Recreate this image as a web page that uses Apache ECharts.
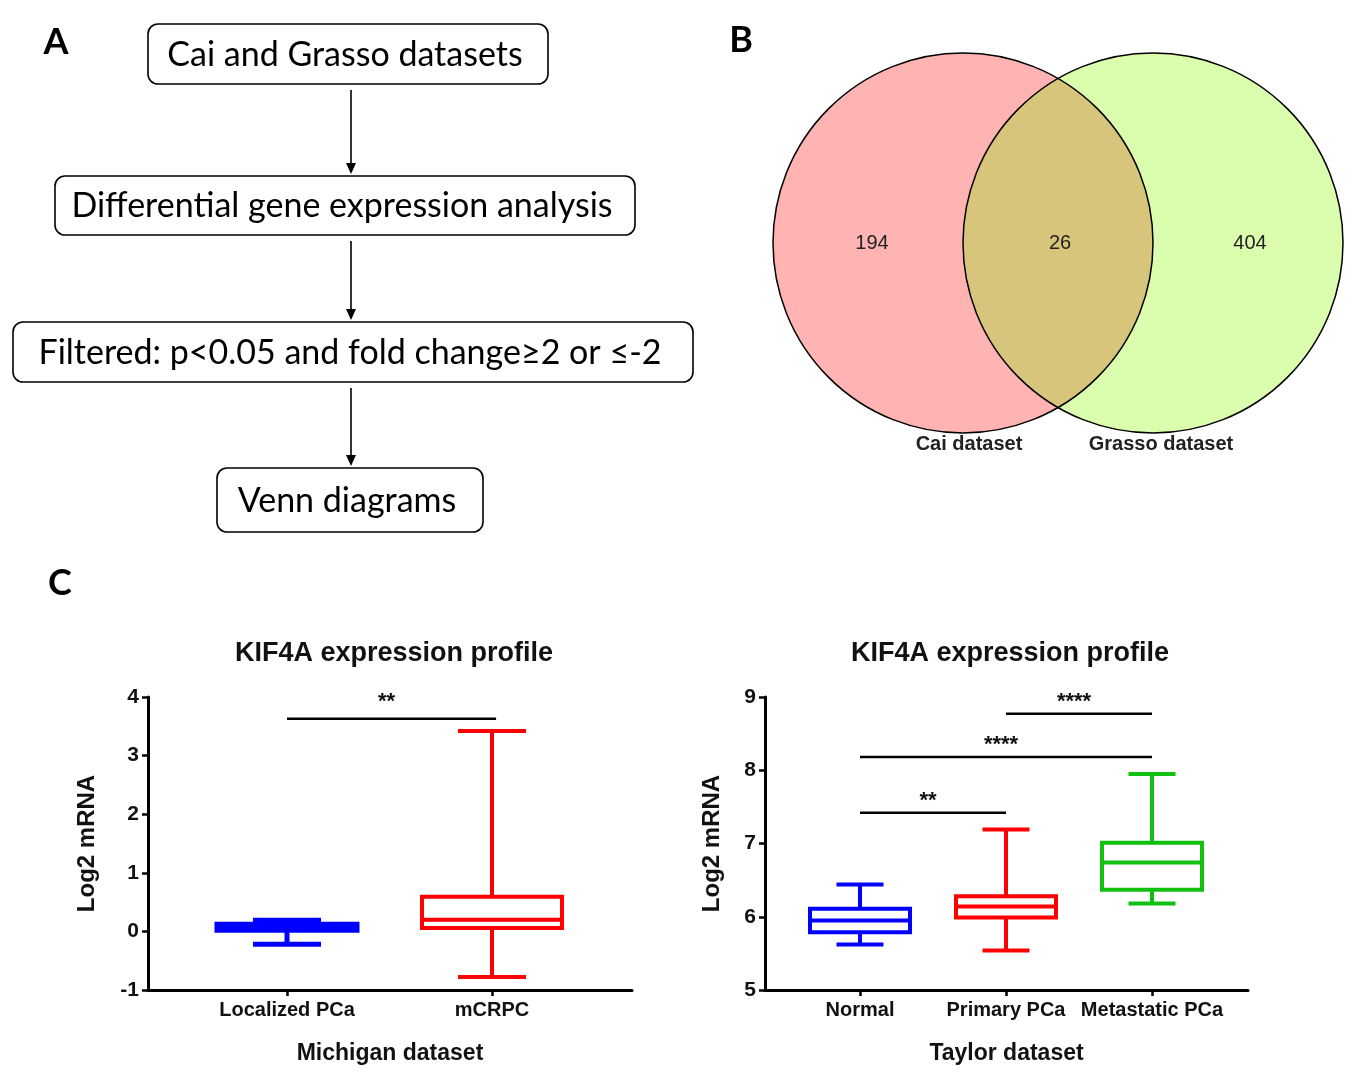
<!DOCTYPE html>
<html>
<head>
<meta charset="utf-8">
<script src="https://cdn.jsdelivr.net/npm/echarts@6/dist/echarts.min.js"></script>
<style>
html,body{margin:0;padding:0;background:#fff;}
#c{width:1357px;height:1083px;}
</style>
</head>
<body>
<div id="c"></div>
<script>
// ---------- data ----------
const flowSteps = ['Cai and Grasso datasets', 'Differential gene expression analysis', 'Filtered: p<0.05 and fold change\u22652 or \u2264-2', 'Venn diagrams'];
const vennSets = ['Cai dataset', 'Grasso dataset'];
const vennCounts = [194, 26, 404]; // Cai only, both, Grasso only

const catsLeft = ['Localized PCa', 'mCRPC'];
// [low whisker, Q1, median, Q3, high whisker]
const boxLeft = [
  [-0.22, 0.02, 0.07, 0.12, 0.19],
  [-0.78, 0.06, 0.20, 0.59, 3.42]
];
const sigLeft = [[0, 1.02, 3.63, '**']];

const catsRight = ['Normal', 'Primary PCa', 'Metastatic PCa'];
const boxRight = [
  [5.62, 5.79, 5.95, 6.11, 6.44],
  [5.54, 5.99, 6.14, 6.28, 7.19],
  [6.18, 6.37, 6.74, 7.01, 7.95]
];
const sigRight = [[0, 1, 7.42, '**'], [0, 2, 8.18, '****'], [1, 2, 8.77, '****']];

const yTicksLeft = [-1, 4];
const yTicksRight = [5, 9];

// ---------- styles ----------
const colorsLeft = ['#0000ff', '#ff0000'];
const colorsRight = ['#0000ff', '#ff0000', '#11c011'];
const F = 'Liberation Sans, Arial, sans-serif';
const FF = 'Lato, Noto Sans, sans-serif';

const chart = echarts.init(document.getElementById('c'), null, {renderer: 'canvas'});

function boxRender(colors, boxW, capW, lws) {
  return function (params, api) {
    const x = api.value(0);
    const lo = api.coord([x, api.value(1)]);
    const q1 = api.coord([x, api.value(2)]);
    const md = api.coord([x, api.value(3)]);
    const q3 = api.coord([x, api.value(4)]);
    const hi = api.coord([x, api.value(5)]);
    const cx = lo[0];
    const col = colors[params.dataIndex];
    const lw = lws[params.dataIndex];
    const st = {stroke: col, lineWidth: lw, fill: null};
    return {
      type: 'group',
      children: [
        {type: 'line', shape: {x1: cx, y1: hi[1], x2: cx, y2: q3[1]}, style: st},
        {type: 'line', shape: {x1: cx, y1: q1[1], x2: cx, y2: lo[1]}, style: st},
        {type: 'line', shape: {x1: cx - capW / 2, y1: hi[1], x2: cx + capW / 2, y2: hi[1]}, style: st},
        {type: 'line', shape: {x1: cx - capW / 2, y1: lo[1], x2: cx + capW / 2, y2: lo[1]}, style: st},
        {type: 'rect', shape: {x: cx - boxW / 2, y: q3[1], width: boxW, height: q1[1] - q3[1]}, style: {stroke: col, lineWidth: lw, fill: '#fff'}},
        {type: 'line', shape: {x1: cx - boxW / 2, y1: md[1], x2: cx + boxW / 2, y2: md[1]}, style: st}
      ]
    };
  };
}

const sigLabels = {sigL: sigLeft.map(s => s[3]), sigR: sigRight.map(s => s[3])};
function sigRender(gap) {
  return function (params, api) {
    const a = api.coord([api.value(0), api.value(2)]);
    const b = api.coord([api.value(1), api.value(2)]);
    const lbl = sigLabels[params.seriesName][params.dataIndex];
    return {
      type: 'group',
      children: [
        {type: 'line', shape: {x1: a[0], y1: a[1], x2: b[0], y2: b[1]}, style: {stroke: '#000', lineWidth: 2.5}},
        {type: 'text', style: {text: lbl, x: (a[0] + b[0]) / 2 - 5, y: a[1] - gap, align: 'center', verticalAlign: 'middle', fill: '#111', font: 'bold 22px ' + F}}
      ]
    };
  };
}

function mkX(gridIndex, cats, min, max, name) {
  return {
    type: 'value', gridIndex: gridIndex, min: min, max: max,
    splitLine: {show: false},
    axisLine: {show: true, onZero: false, lineStyle: {color: '#000', width: 3}},
    axisTick: {show: true, length: 6, inside: false, customValues: cats.map((c, i) => i), lineStyle: {color: '#000', width: 2.5}},
    axisLabel: {color: '#111', fontFamily: F, fontWeight: 'bold', fontSize: 20, margin: 10, customValues: cats.map((c, i) => i), formatter: v => cats[Math.round(v)] || ''},
    name: name, nameLocation: 'middle', nameGap: 52,
    nameTextStyle: {color: '#111', fontFamily: F, fontWeight: 'bold', fontSize: 23}
  };
}
function mkY(gridIndex, ticks, gap) {
  return {
    type: 'value', gridIndex: gridIndex, min: ticks[0], max: ticks[1], interval: 1,
    splitLine: {show: false},
    axisLine: {show: true, onZero: false, lineStyle: {color: '#000', width: 3}},
    axisTick: {show: true, length: 6, lineStyle: {color: '#000', width: 2.5}},
    axisLabel: {color: '#111', fontFamily: F, fontWeight: 'bold', fontSize: 21, margin: 9},
    name: 'Log2 mRNA', nameLocation: 'middle', nameGap: gap, nameRotate: 90,
    nameTextStyle: {color: '#111', fontFamily: F, fontWeight: 'bold', fontSize: 24}
  };
}

// ---------- graphics: flowchart + venn ----------
const boxes = [
  {x: 148, y: 24, w: 400, h: 60},
  {x: 55, y: 176, w: 580, h: 59},
  {x: 13, y: 322, w: 680, h: 60},
  {x: 217, y: 468, w: 266, h: 64}
];
const graphics = [];
graphics.push({type: 'text', style: {text: 'A', x: 56, y: 42, align: 'center', verticalAlign: 'middle', font: 'bold 36px ' + FF, fill: '#000'}});
graphics.push({type: 'text', style: {text: 'B', x: 741, y: 40, align: 'center', verticalAlign: 'middle', font: 'bold 36px ' + FF, fill: '#000'}});
graphics.push({type: 'text', style: {text: 'C', x: 60, y: 583, align: 'center', verticalAlign: 'middle', font: 'bold 36px ' + FF, fill: '#000'}});

boxes.forEach((b, i) => {
  graphics.push({type: 'rect', shape: {x: b.x, y: b.y, width: b.w, height: b.h, r: 10}, style: {fill: '#fff', stroke: '#000', lineWidth: 1.6}});
  graphics.push({type: 'text', style: {text: flowSteps[i], x: b.x + b.w / 2 - 3, y: b.y + b.h / 2 + 1, align: 'center', verticalAlign: 'middle', font: '34px ' + FF, fill: '#000'}});
  if (i < boxes.length - 1) {
    const y1 = b.y + b.h + 6, y2 = boxes[i + 1].y - 2;
    graphics.push({type: 'line', shape: {x1: 351, y1: y1, x2: 351, y2: y2 - 8}, style: {stroke: '#000', lineWidth: 1.6}});
    graphics.push({type: 'polygon', shape: {points: [[346, y2 - 11], [356, y2 - 11], [351, y2]]}, style: {fill: '#000'}});
  }
});

// Venn
const vL = {cx: 963, cy: 243, r: 190};
const vR = {cx: 1153, cy: 243, r: 190};
const dx = (vR.cx - vL.cx) / 2;
const halfAng = Math.acos(dx / vL.r);
const lens = [];
const N = 60;
for (let k = 0; k <= N; k++) { // right arc of left circle
  const t = -halfAng + 2 * halfAng * k / N;
  lens.push([vL.cx + vL.r * Math.cos(t), vL.cy + vL.r * Math.sin(t)]);
}
for (let k = 0; k <= N; k++) { // left arc of right circle
  const t = Math.PI - halfAng + 2 * halfAng * k / N;
  lens.push([vR.cx + vR.r * Math.cos(t), vR.cy + vR.r * Math.sin(t)]);
}
graphics.push({type: 'circle', shape: vL, style: {fill: '#ffb3b3', stroke: null}});
graphics.push({type: 'circle', shape: vR, style: {fill: '#dafead', stroke: null}});
graphics.push({type: 'polygon', shape: {points: lens}, style: {fill: '#d7c57c', stroke: null}});
graphics.push({type: 'circle', shape: vL, style: {fill: null, stroke: '#000', lineWidth: 1.5}});
graphics.push({type: 'circle', shape: vR, style: {fill: null, stroke: '#000', lineWidth: 1.5}});
[[872, vennCounts[0]], [1060, vennCounts[1]], [1250, vennCounts[2]]].forEach(p => {
  graphics.push({type: 'text', style: {text: String(p[1]), x: p[0], y: 243, align: 'center', verticalAlign: 'middle', font: '20px ' + F, fill: '#222'}});
});
graphics.push({type: 'text', style: {text: vennSets[0], x: 969, y: 444, align: 'center', verticalAlign: 'middle', font: 'bold 20px ' + F, fill: '#222'}});
graphics.push({type: 'text', style: {text: vennSets[1], x: 1161, y: 444, align: 'center', verticalAlign: 'middle', font: 'bold 20px ' + F, fill: '#222'}});

const option = {
  backgroundColor: '#fff',
  animation: false,
  title: [
    {text: 'KIF4A expression profile', left: 389, top: 635, textAlign: 'center', textStyle: {fontFamily: F, fontWeight: 'bold', fontSize: 27, color: '#111'}},
    {text: 'KIF4A expression profile', left: 1005, top: 635, textAlign: 'center', textStyle: {fontFamily: F, fontWeight: 'bold', fontSize: 27, color: '#111'}}
  ],
  grid: [
    {left: 148, top: 697, width: 484, height: 293},
    {left: 765, top: 697, width: 483, height: 293}
  ],
  xAxis: [
    mkX(0, catsLeft, (148 - 287) / 205, (632 - 287) / 205, 'Michigan dataset'),
    mkX(1, catsRight, (765 - 860) / 146, (1248 - 860) / 146, 'Taylor dataset')
  ],
  yAxis: [mkY(0, yTicksLeft, 49), mkY(1, yTicksRight, 41)],
  series: [
    {type: 'custom', xAxisIndex: 0, yAxisIndex: 0, renderItem: boxRender(colorsLeft, 140, 68, [5, 4]),
      data: boxLeft.map((b, i) => [i].concat(b)), encode: {x: 0, y: [1, 2, 3, 4, 5]}, clip: false},
    {type: 'custom', name: 'sigL', xAxisIndex: 0, yAxisIndex: 0, renderItem: sigRender(17),
      data: sigLeft.map(s => s.slice(0, 3)), encode: {x: [0, 1], y: 2}, clip: false},
    {type: 'custom', xAxisIndex: 1, yAxisIndex: 1, renderItem: boxRender(colorsRight, 100, 47, [4, 4, 4]),
      data: boxRight.map((b, i) => [i].concat(b)), encode: {x: 0, y: [1, 2, 3, 4, 5]}, clip: false},
    {type: 'custom', name: 'sigR', xAxisIndex: 1, yAxisIndex: 1, renderItem: sigRender(12),
      data: sigRight.map(s => s.slice(0, 3)), encode: {x: [0, 1], y: 2}, clip: false}
  ],
  graphic: graphics
};
chart.setOption(option);
</script>
</body>
</html>
